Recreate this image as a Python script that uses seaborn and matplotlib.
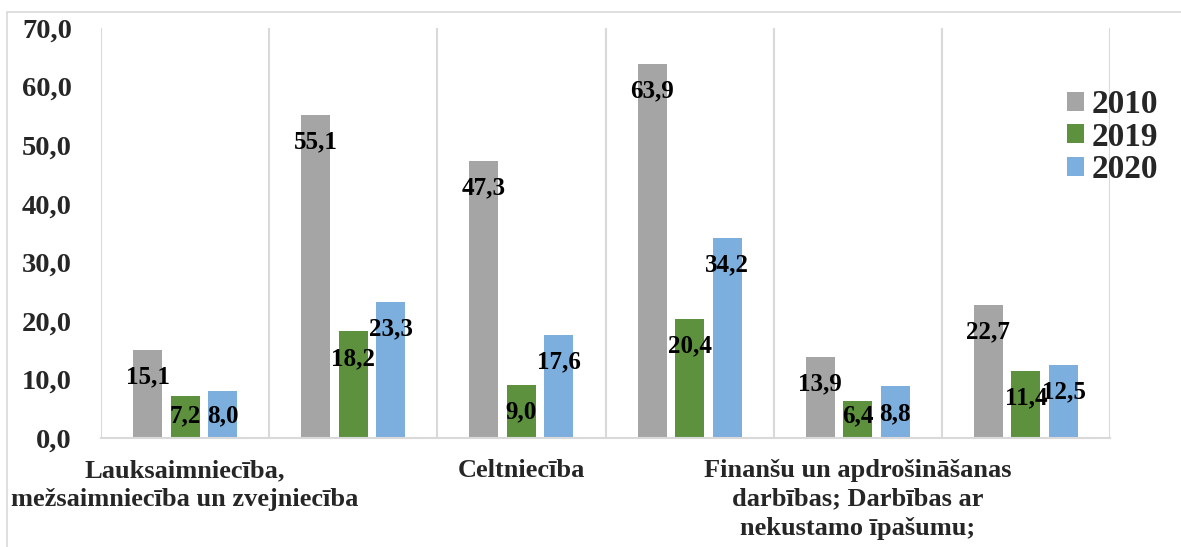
import numpy as np
import pandas as pd
import seaborn as sns
import matplotlib.pyplot as plt
from matplotlib.ticker import FuncFormatter, MultipleLocator, FixedLocator
from matplotlib.patches import Rectangle

# Sectors (only every second one carries a visible axis label)
sector_ids = ["S1", "S2", "S3", "S4", "S5", "S6"]
sector_labels = [
    "Lauksaimniecība,\nmežsaimniecība un zvejniecība",
    "",
    "Celtniecība",
    "",
    "Finanšu un apdrošināšanas\ndarbības; Darbības ar\nnekustamo īpašumu;",
    "",
]
years = ["2010", "2019", "2020"]
values_2010 = [15.1, 55.1, 47.3, 63.9, 13.9, 22.7]
values_2019 = [7.2, 18.2, 9.0, 20.4, 6.4, 11.4]
values_2020 = [8.0, 23.3, 17.6, 34.2, 8.8, 12.5]

df = pd.DataFrame({
    "sector": sector_ids * 3,
    "year": [y for y in years for _ in sector_ids],
    "value": values_2010 + values_2019 + values_2020,
})

colors = {"2010": "#a5a5a5", "2019": "#5e913e", "2020": "#7caede"}
grid_color = "#d9d9d9"

sns.set_theme(style="white")
plt.rcParams["font.family"] = ["Liberation Serif", "DejaVu Serif"]
plt.rcParams["font.weight"] = "bold"

W, H = 1181, 547
fig = plt.figure(figsize=(W / 100, H / 100), dpi=100)
ax = fig.add_axes([101 / W, 1 - 438 / H, (1110 - 101) / W, (438 - 28) / H])

sns.barplot(data=df, x="sector", y="value", hue="year", order=sector_ids,
            hue_order=years, palette=colors, width=0.67, gap=0.227,
            saturation=1, linewidth=0, ax=ax)

ax.set_xlim(-0.5, len(sector_ids) - 0.5)
ax.set_ylim(0, 70)
ax.yaxis.set_major_locator(MultipleLocator(10))
ax.yaxis.set_major_formatter(FuncFormatter(lambda v, _: f"{v:.1f}".replace(".", ",")))
ax.set_xticks(range(len(sector_ids)))
ax.set_xticklabels(sector_labels, fontsize=19, fontweight="bold", linespacing=1.33)
ax.set_xlabel("")
ax.set_ylabel("")

# vertical separators between sectors
ax.xaxis.set_minor_locator(FixedLocator(np.arange(-0.5, len(sector_ids), 1.0)))
ax.grid(False)
ax.grid(True, which="minor", axis="x", color=grid_color, lw=1.5, zorder=0)
ax.set_axisbelow(True)

for s in ["left", "top", "right"]:
    ax.spines[s].set_visible(False)
ax.spines["bottom"].set_color(grid_color)
ax.spines["bottom"].set_linewidth(1.5)

ax.tick_params(axis="both", which="both", length=0)
ax.tick_params(axis="y", labelsize=20.5, pad=21)
ax.tick_params(axis="x", pad=15)
for t in ax.get_yticklabels():
    t.set_fontweight("bold")

# value labels just inside the top of each bar
px_per_unit = (438 - 28) / 70
for cont in ax.containers:
    for p in cont:
        v = p.get_height()
        x = p.get_x() + p.get_width() / 2
        y = max(v - 27 / px_per_unit, 22 / px_per_unit)
        ax.text(x, y, f"{v:.1f}".replace(".", ","), ha="center", va="center",
                fontsize=18, fontweight="bold", color="black")

handles, labels = ax.get_legend_handles_labels()
ax.legend(handles, labels, loc="center left",
          bbox_to_anchor=(1067 / W, 1 - 137 / H), bbox_transform=fig.transFigure,
          frameon=False, prop={"weight": "bold", "size": 24},
          handlelength=0.5, handleheight=0.5, handletextpad=0.25,
          labelspacing=0.05, borderpad=0, borderaxespad=0)

# outer chart border
fig.add_artist(Rectangle((7 / W, -0.1), 1.2, 1 - 12 / H + 0.1,
                         transform=fig.transFigure, fill=False,
                         edgecolor=grid_color, lw=1.2))

fig.savefig("out.png", dpi=100)
